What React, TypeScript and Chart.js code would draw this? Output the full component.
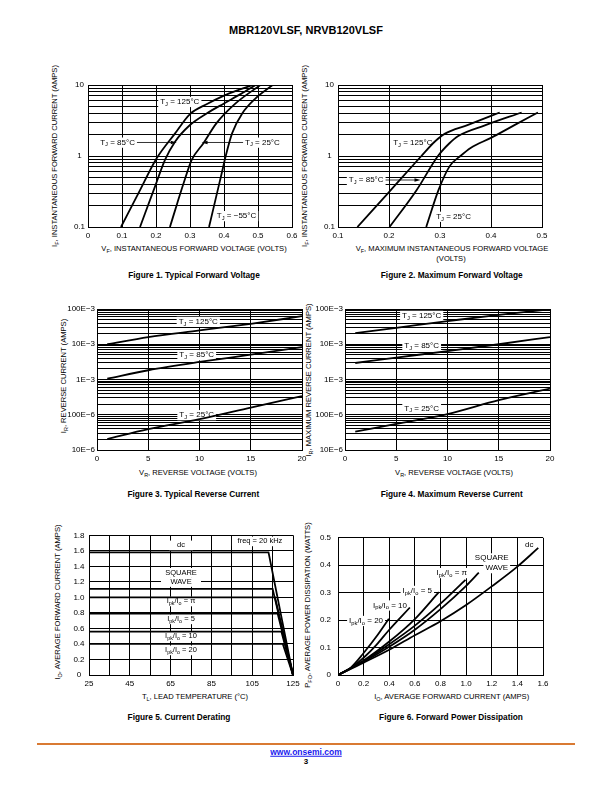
import React, { useEffect, useRef } from 'react';
import { Chart, registerables } from 'chart.js';

Chart.register(...registerables);

const FONT = '"Liberation Sans", Arial, Helvetica, sans-serif';

// ---------------- Figure 1: Typical Forward Voltage ----------------
const fig1XGrid = [0, 0.1, 0.2, 0.3, 0.4, 0.5, 0.6];
const fig1XLabels = ['0', '0.1', '0.2', '0.3', '0.4', '0.5', '0.6'];
const fig1YDecades = [0.1, 1, 10];
const fig1YLabels = ['0.1', '1', '10'];
const fig1V125 = [0.097, 0.15, 0.202, 0.255, 0.3, 0.35, 0.4, 0.445, 0.484];
const fig1I125 = [0.1, 0.31, 0.93, 2.05, 3.9, 5.4, 7.1, 8.6, 10];
const fig1V85 = [0.153, 0.197, 0.2265, 0.256, 0.3, 0.35, 0.4, 0.45, 0.493];
const fig1I85 = [0.1, 0.37, 0.88, 1.59, 2.73, 4.0, 5.5, 7.5, 10];
const fig1V25 = [0.241, 0.263, 0.285, 0.305, 0.339, 0.378, 0.434, 0.507];
const fig1I25 = [0.1, 0.22, 0.47, 0.88, 1.5, 2.9, 5.5, 10];
const fig1Vm55 = [0.356, 0.376, 0.395, 0.405, 0.424, 0.454, 0.493, 0.543];
const fig1Im55 = [0.1, 0.255, 0.62, 1.0, 2.1, 4.0, 6.5, 10];

// ---------------- Figure 2: Maximum Forward Voltage ----------------
const fig2XGrid = [0.1, 0.2, 0.3, 0.4, 0.5];
const fig2XLabels = ['0.1', '0.2', '0.3', '0.4', '0.5'];
const fig2V125 = [0.138, 0.2, 0.2635, 0.29, 0.309, 0.355, 0.417];
const fig2I125 = [0.1, 0.31, 1.0, 1.6, 2.05, 2.74, 4.1];
const fig2V85 = [0.201, 0.254, 0.296, 0.318, 0.335, 0.388, 0.46];
const fig2I85 = [0.1, 0.33, 1.0, 1.5, 1.9, 2.7, 4.1];
const fig2V25 = [0.273, 0.297, 0.319, 0.34, 0.36, 0.4, 0.445, 0.492];
const fig2I25 = [0.1, 0.33, 0.72, 1.0, 1.3, 1.8, 2.7, 4.1];

// ---------------- Figure 3 / 4: Reverse Current ----------------
const revXGrid = [0, 5, 10, 15, 20];
const revXLabels = ['0', '5', '10', '15', '20'];
const revYDecades = [1e-5, 1e-4, 1e-3, 1e-2, 1e-1];
const revYLabels = ['10E\u22126', '100E\u22126', '1E\u22123', '10E\u22123', '100E\u22123'];
const fig3V = [1, 5, 10, 15, 20];
const fig3I125 = [0.01, 0.016, 0.0247, 0.0381, 0.0626];
const fig3I85 = [0.00106, 0.00183, 0.00314, 0.00507, 0.0083];
const fig3I25 = [2.05e-5, 3.9e-5, 7.5e-5, 1.6e-4, 3.4e-4];
const fig4V = [1, 5, 10, 15, 20];
const fig4I125 = [0.0207, 0.0293, 0.0453, 0.0684, 0.097];
const fig4I85 = [0.00294, 0.00417, 0.0064, 0.01, 0.016];
const fig4I25 = [3.3e-5, 5.5e-5, 1.05e-4, 2.6e-4, 5.5e-4];

// ---------------- Figure 5: Current Derating ----------------
const fig5XGrid = [25, 35, 45, 55, 65, 75, 85, 95, 105, 115, 125];
const fig5XLabelVals = [25, 45, 65, 85, 105, 125];
const fig5XLabels = ['25', '45', '65', '85', '105', '125'];
const fig5YGrid = [0, 0.2, 0.4, 0.6, 0.8, 1.0, 1.2, 1.4, 1.6, 1.8];
const fig5YLabels = ['0', '0.2', '0.4', '0.6', '0.8', '1.0', '1.2', '1.4', '1.6', '1.8'];
const fig5DcT = [25, 113, 125];
const fig5DcI = [1.58, 1.58, 0];
const fig5SqT = [25, 115, 125];
const fig5SqI = [1.11, 1.11, 0];
const fig5PiT = [25, 116.2, 125];
const fig5PiI = [1.0, 1.0, 0];
const fig5R5T = [25, 117.5, 125];
const fig5R5I = [0.79, 0.79, 0];
const fig5R10T = [25, 119.3, 125];
const fig5R10I = [0.56, 0.56, 0];
const fig5R20T = [25, 120, 125];
const fig5R20I = [0.4, 0.4, 0];

// ---------------- Figure 6: Forward Power Dissipation ----------------
const fig6XGrid = [0, 0.2, 0.4, 0.6, 0.8, 1.0, 1.2, 1.4, 1.6];
const fig6XLabels = ['0', '0.2', '0.4', '0.6', '0.8', '1.0', '1.2', '1.4', '1.6'];
const fig6YGrid = [0, 0.1, 0.2, 0.3, 0.4, 0.5];
const fig6YLabels = ['0', '0.1', '0.2', '0.3', '0.4', '0.5'];
const fig6DcI = [0, 0.2, 0.4, 0.6, 0.8, 1.0, 1.2, 1.4, 1.563];
const fig6DcP = [0, 0.045, 0.092, 0.145, 0.196, 0.255, 0.323, 0.395, 0.463];
const fig6SqI = [0, 0.2, 0.4, 0.6, 0.8, 1.0, 1.099];
const fig6SqP = [0, 0.048, 0.103, 0.165, 0.24, 0.325, 0.373];
const fig6PiI = [0, 0.2, 0.4, 0.6, 0.8, 0.995];
const fig6PiP = [0, 0.05, 0.112, 0.18, 0.26, 0.347];
const fig6R5I = [0, 0.2, 0.4, 0.6, 0.787];
const fig6R5P = [0, 0.053, 0.122, 0.204, 0.302];
const fig6R10I = [0, 0.1, 0.2, 0.3, 0.4, 0.561];
const fig6R10P = [0, 0.025, 0.063, 0.11, 0.165, 0.246];
const fig6R20I = [0, 0.1, 0.2, 0.3, 0.397];
const fig6R20P = [0, 0.027, 0.08, 0.14, 0.205];

// ---------------- helpers ----------------
type Part = [string, boolean?];
type Note = { x: number; y: number; parts: Part[]; align?: 'left' | 'center' | 'right'; tip?: number; size?: number; boxW?: number };

const TJ = (s: string): Part[] => [['T'], ['J', true], [' = ' + s + '\u00B0C']];
const IPK = (s: string): Part[] => [['I'], ['pk', true], ['/I'], ['o', true], [' = ' + s]];

const fig1Notes: Note[] = [
  { x: 0.27, y: 5.8, parts: TJ('125') },
  { x: 0.087, y: 1.55, parts: TJ('85'), tip: 0.261 },
  { x: 0.462, y: 1.55, parts: TJ('25'), align: 'left', tip: 0.334 },
  { x: 0.379, y: 0.143, parts: TJ('\u221255'), align: 'left' },
];
const fig2Notes: Note[] = [
  { x: 0.2467, y: 1.51, parts: TJ('125') },
  { x: 0.1553, y: 0.459, parts: TJ('85'), tip: 0.2618 },
  { x: 0.2925, y: 0.14, parts: TJ('25'), align: 'left' },
];
const fig3Notes: Note[] = [
  { x: 9.88, y: 0.0436, parts: TJ('125') },
  { x: 9.73, y: 4.95e-3, parts: TJ('85') },
  { x: 9.73, y: 9.84e-5, parts: TJ('25') },
];
const fig4Notes: Note[] = [
  { x: 7.48, y: 0.0646, parts: TJ('125') },
  { x: 7.48, y: 9.1e-3, parts: TJ('85') },
  { x: 7.48, y: 1.52e-4, parts: TJ('25') },
];
const fig5Notes: Note[] = [
  { x: 70.1, y: 1.672, parts: [['dc']], size: 7.5, boxW: 24 },
  { x: 108.8, y: 1.723, parts: [['freq = 20 kHz']], size: 7.5, boxW: 56 },
  { x: 70.1, y: 1.319, parts: [['SQUARE']], size: 7.5, boxW: 40 },
  { x: 70.1, y: 1.2, parts: [['WAVE']], size: 7.5, boxW: 40 },
  { x: 70.1, y: 0.949, parts: IPK('\u03C0'), size: 7.5 },
  { x: 70.1, y: 0.719, parts: IPK('5'), size: 7.5 },
  { x: 70.1, y: 0.498, parts: IPK('10'), size: 7.5 },
  { x: 70.1, y: 0.319, parts: IPK('20'), size: 7.5 },
];
const fig6Notes: Note[] = [
  { x: 1.493, y: 0.476, parts: [['dc']] },
  { x: 1.2, y: 0.4255, parts: [['SQUARE']] },
  { x: 1.239, y: 0.39, parts: [['WAVE']] },
  { x: 0.888, y: 0.372, parts: IPK('\u03C0') },
  { x: 0.619, y: 0.307, parts: IPK('5') },
  { x: 0.406, y: 0.254, parts: IPK('10') },
  { x: 0.219, y: 0.1975, parts: IPK('20') },
];

function notesPlugin(notes: Note[]) {
  return {
    id: 'notes',
    beforeDatasetsDraw(chart: any) {
      const ctx = chart.ctx;
      const xs = chart.scales.x;
      const ys = chart.scales.y;
      ctx.save();
      for (const n of notes) {
        const size = n.size ?? 8;
        const sub = size * 0.72;
        const widths = n.parts.map(([t, s]) => {
          ctx.font = `${s ? sub : size}px ${FONT}`;
          return ctx.measureText(t).width;
        });
        const total = widths.reduce((a, b) => a + b, 0);
        const px = xs.getPixelForValue(n.x);
        const py = ys.getPixelForValue(n.y);
        const align = n.align ?? 'center';
        const left = align === 'left' ? px : align === 'right' ? px - total : px - total / 2;
        const bw = n.boxW ?? total + 4;
        const bl = left + total / 2 - bw / 2;
        ctx.fillStyle = '#fff';
        ctx.fillRect(bl, py - size * 0.62, bw, size * 1.28);
        if (n.tip !== undefined) {
          const tx = xs.getPixelForValue(n.tip);
          const dir = tx > px ? 1 : -1;
          const sx = dir > 0 ? left + total + 2 : left - 2;
          ctx.strokeStyle = '#000';
          ctx.lineWidth = 0.8;
          ctx.beginPath();
          ctx.moveTo(sx, py);
          ctx.lineTo(tx - dir * 4, py);
          ctx.stroke();
          ctx.fillStyle = '#000';
          ctx.beginPath();
          ctx.moveTo(tx, py);
          ctx.lineTo(tx - dir * 6, py - 1.8);
          ctx.lineTo(tx - dir * 6, py + 1.8);
          ctx.closePath();
          ctx.fill();
        }
        ctx.fillStyle = '#000';
        ctx.textBaseline = 'middle';
        ctx.textAlign = 'left';
        let x = left;
        n.parts.forEach(([t, s], i) => {
          ctx.font = `${s ? sub : size}px ${FONT}`;
          ctx.fillText(t, x, s ? py + size * 0.3 : py);
          x += widths[i];
        });
      }
      ctx.restore();
    },
  };
}

function scaleOpts(type: string, min: number, max: number, grid: number[], labelVals: number[], labels: string[], align: string, padding: number) {
  return {
    type,
    min,
    max,
    afterBuildTicks: (axis: any) => {
      axis.ticks = grid.map((v) => ({ value: v }));
    },
    ticks: {
      autoSkip: false,
      maxRotation: 0,
      minRotation: 0,
      color: '#000',
      padding,
      crossAlign: align,
      font: { family: FONT, size: 8 },
      callback: (v: number) => {
        const i = labelVals.findIndex((t) => Math.abs(t - v) <= Math.abs(t) * 1e-6 + 1e-12);
        return i >= 0 ? labels[i] : '';
      },
    },
    grid: { color: '#000', lineWidth: 1, drawTicks: false },
    border: { color: '#000', width: 1 },
  };
}

function logGrid(minExp: number, maxExp: number) {
  const out: number[] = [];
  for (let e = minExp; e < maxExp; e++) for (let m = 1; m < 10; m++) out.push(m * Math.pow(10, e));
  out.push(Math.pow(10, maxExp));
  return out;
}

function series(xs: number[], ys: number[], smooth = true) {
  return {
    data: xs.map((x, i) => ({ x, y: ys[i] })),
    borderColor: '#000',
    borderWidth: 1.8,
    pointRadius: 0,
    fill: false,
    cubicInterpolationMode: smooth ? 'monotone' : 'default',
    tension: 0,
  };
}

type Geo = { L: number; T: number; R: number; B: number; padL: number };
const PAD_T = 8;
const PAD_R = 14;
const PAD_B = 18;

function Panel({ geo, make }: { geo: Geo; make: () => any }) {
  const ref = useRef<HTMLCanvasElement>(null);
  const w = geo.R - geo.L + geo.padL + PAD_R;
  const h = geo.B - geo.T + PAD_T + PAD_B;
  useEffect(() => {
    const cfg = make();
    cfg.options.layout = { padding: { top: PAD_T, right: PAD_R, left: 0, bottom: 0 } };
    cfg.options.scales.x.afterFit = (s: any) => {
      s.height = PAD_B;
    };
    cfg.options.scales.y.afterFit = (s: any) => {
      s.width = geo.padL;
    };
    const chart = new Chart(ref.current as HTMLCanvasElement, cfg);
    return () => chart.destroy();
  }, []);
  return (
    <canvas
      ref={ref}
      width={w}
      height={h}
      style={{ position: 'absolute', left: geo.L - geo.padL, top: geo.T - PAD_T, width: w, height: h }}
    />
  );
}

function baseCfg(datasets: any[], x: any, y: any, notes: Note[]) {
  return {
    type: 'line',
    data: { datasets },
    options: {
      responsive: false,
      animation: false,
      events: [],
      plugins: { legend: { display: false }, tooltip: { enabled: false } },
      scales: { x, y },
    },
    plugins: [notesPlugin(notes)],
  };
}

const G1: Geo = { L: 88, T: 85, R: 292, B: 227, padL: 30 };
const G2: Geo = { L: 338, T: 85, R: 542, B: 227, padL: 30 };
const G3: Geo = { L: 97, T: 309, R: 302, B: 450, padL: 45 };
const G4: Geo = { L: 345, T: 309, R: 550, B: 450, padL: 45 };
const G5: Geo = { L: 89, T: 534, R: 293, B: 675, padL: 30 };
const G6: Geo = { L: 338, T: 534, R: 543, B: 675, padL: 30 };

const make1 = () =>
  baseCfg(
    [series(fig1V125, fig1I125), series(fig1V85, fig1I85), series(fig1V25, fig1I25), series(fig1Vm55, fig1Im55)],
    scaleOpts('linear', 0, 0.6, fig1XGrid, fig1XGrid, fig1XLabels, 'near', 3.5),
    scaleOpts('logarithmic', 0.1, 10, logGrid(-1, 1), fig1YDecades, fig1YLabels, 'center', 3),
    fig1Notes
  );
const make2 = () =>
  baseCfg(
    [series(fig2V125, fig2I125), series(fig2V85, fig2I85), series(fig2V25, fig2I25)],
    scaleOpts('linear', 0.1, 0.5, fig2XGrid, fig2XGrid, fig2XLabels, 'near', 3.5),
    scaleOpts('logarithmic', 0.1, 10, logGrid(-1, 1), fig1YDecades, fig1YLabels, 'center', 3),
    fig2Notes
  );
const make3 = () =>
  baseCfg(
    [series(fig3V, fig3I125), series(fig3V, fig3I85), series(fig3V, fig3I25)],
    scaleOpts('linear', 0, 20, revXGrid, revXGrid, revXLabels, 'near', 3.5),
    scaleOpts('logarithmic', 1e-5, 0.1, logGrid(-5, -1), revYDecades, revYLabels, 'near', 2),
    fig3Notes
  );
const make4 = () =>
  baseCfg(
    [series(fig4V, fig4I125), series(fig4V, fig4I85), series(fig4V, fig4I25)],
    scaleOpts('linear', 0, 20, revXGrid, revXGrid, revXLabels, 'near', 3.5),
    scaleOpts('logarithmic', 1e-5, 0.1, logGrid(-5, -1), revYDecades, revYLabels, 'near', 2),
    fig4Notes
  );
const make5 = () =>
  baseCfg(
    [
      series(fig5DcT, fig5DcI, false),
      series(fig5SqT, fig5SqI, false),
      series(fig5PiT, fig5PiI, false),
      series(fig5R5T, fig5R5I, false),
      series(fig5R10T, fig5R10I, false),
      series(fig5R20T, fig5R20I, false),
    ],
    scaleOpts('linear', 25, 125, fig5XGrid, fig5XLabelVals, fig5XLabels, 'near', 3.5),
    scaleOpts('linear', 0, 1.8, fig5YGrid, fig5YGrid, fig5YLabels, 'center', 4.5),
    fig5Notes
  );
const make6 = () =>
  baseCfg(
    [
      series(fig6DcI, fig6DcP),
      series(fig6SqI, fig6SqP),
      series(fig6PiI, fig6PiP),
      series(fig6R5I, fig6R5P),
      series(fig6R10I, fig6R10P),
      series(fig6R20I, fig6R20P),
    ],
    scaleOpts('linear', 0, 1.6, fig6XGrid, fig6XGrid, fig6XLabels, 'near', 3.5),
    scaleOpts('linear', 0, 0.5, fig6YGrid, fig6YGrid, fig6YLabels, 'near', 7),
    fig6Notes
  );

function Txt({ x, y, parts, size, bold, rot, color, underline }: { x: number; y: number; parts: Part[]; size: number; bold?: boolean; rot?: boolean; color?: string; underline?: boolean }) {
  return (
    <div
      style={{
        position: 'absolute',
        left: x,
        top: y,
        transform: 'translate(-50%, -50%)' + (rot ? ' rotate(-90deg)' : ''),
        fontFamily: FONT,
        fontSize: size,
        fontWeight: bold ? 'bold' : 'normal',
        whiteSpace: 'nowrap',
        lineHeight: 1,
        color: color ?? '#000',
        textDecoration: underline ? 'underline' : 'none',
      }}
    >
      {parts.map(([t, s], i) =>
        s ? (
          <span key={i} style={{ fontSize: '0.72em', position: 'relative', top: '0.3em' }}>
            {t}
          </span>
        ) : (
          <span key={i}>{t}</span>
        )
      )}
    </div>
  );
}

const TS = 7.6;
const CS = 8.3;

export default function App() {
  return (
    <div style={{ position: 'absolute', left: 0, top: 0, width: 612, height: 792, background: '#fff', overflow: 'hidden' }}>
      <Txt x={306} y={30} size={11} bold parts={[['MBR120VLSF, NRVB120VLSF']]} />

      <Txt x={55} y={156} size={TS} rot parts={[['I'], ['F', true], [', INSTANTANEOUS FORWARD CURRENT (AMPS)']]} />
      <Txt x={194} y={249} size={TS} parts={[['V'], ['F', true], [', INSTANTANEOUS FORWARD VOLTAGE (VOLTS)']]} />
      <Txt x={194} y={275} size={CS} bold parts={[['Figure 1. Typical Forward Voltage']]} />

      <Txt x={305} y={156} size={TS} rot parts={[['I'], ['F', true], [', INSTANTANEOUS FORWARD CURRENT (AMPS)']]} />
      <Txt x={452} y={249} size={TS} parts={[['V'], ['F', true], [', MAXIMUM INSTANTANEOUS FORWARD VOLTAGE']]} />
      <Txt x={451} y={258.5} size={TS} parts={[['(VOLTS)']]} />
      <Txt x={451.7} y={275} size={CS} bold parts={[['Figure 2. Maximum Forward Voltage']]} />

      <Txt x={64} y={376} size={TS} rot parts={[['I'], ['R', true], [', REVERSE CURRENT (AMPS)']]} />
      <Txt x={198} y={473} size={TS} parts={[['V'], ['R', true], [', REVERSE VOLTAGE (VOLTS)']]} />
      <Txt x={193.3} y={494} size={CS} bold parts={[['Figure 3. Typical Reverse Current']]} />

      <Txt x={309} y={380} size={TS} rot parts={[['I'], ['R', true], [', MAXIMUM REVERSE CURRENT (AMPS)']]} />
      <Txt x={454} y={473} size={TS} parts={[['V'], ['R', true], [', REVERSE VOLTAGE (VOLTS)']]} />
      <Txt x={451.7} y={494} size={CS} bold parts={[['Figure 4. Maximum Reverse Current']]} />

      <Txt x={58} y={602} size={TS} rot parts={[['I'], ['O', true], [', AVERAGE FORWARD CURRENT (AMPS)']]} />
      <Txt x={195} y={697} size={TS} parts={[['T'], ['L', true], [', LEAD TEMPERATURE (\u00B0C)']]} />
      <Txt x={179} y={717} size={CS} bold parts={[['Figure 5. Current Derating']]} />

      <Txt x={307.5} y={605} size={TS} rot parts={[['P'], ['FO', true], [', AVERAGE POWER DISSIPATION (WATTS)']]} />
      <Txt x={451.7} y={697} size={TS} parts={[['I'], ['O', true], [', AVERAGE FORWARD CURRENT (AMPS)']]} />
      <Txt x={451} y={717} size={CS} bold parts={[['Figure 6. Forward Power Dissipation']]} />

      <Panel geo={G1} make={make1} />
      <Panel geo={G2} make={make2} />
      <Panel geo={G3} make={make3} />
      <Panel geo={G4} make={make4} />
      <Panel geo={G5} make={make5} />
      <Panel geo={G6} make={make6} />

      <div style={{ position: 'absolute', left: 37, top: 743, width: 538, height: 2, background: '#d97a33' }} />
      <Txt x={306} y={752} size={8.5} bold color="#1a1aee" underline parts={[['www.onsemi.com']]} />
      <Txt x={306} y={762} size={8} bold parts={[['3']]} />
    </div>
  );
}
